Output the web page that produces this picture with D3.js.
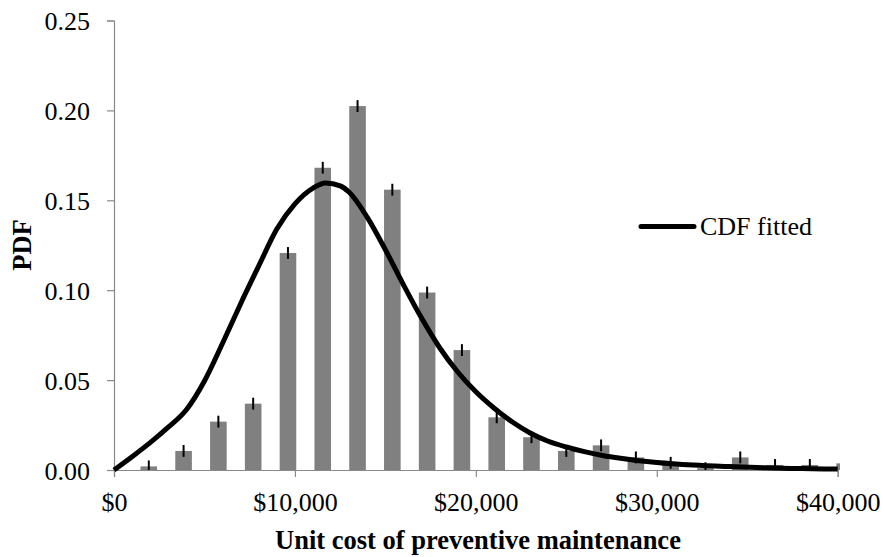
<!DOCTYPE html>
<html>
<head>
<meta charset="utf-8">
<script src="https://cdn.jsdelivr.net/npm/d3@7/dist/d3.min.js"></script>
<style>
  html, body { margin: 0; padding: 0; background: #fff; }
  svg { display: block; }
  text { font-family: "Liberation Serif", "Times New Roman", serif; fill: #000; }
</style>
</head>
<body>
<svg id="chart" width="885" height="557"></svg>
<script>
// Histogram of unit cost (bin midpoints, $) with observed PDF and error
const binCost = [1923, 3846, 5769, 7692, 9615, 11538, 13461, 15384, 17307, 19230,
                 21153, 23076, 24999, 26922, 28845, 30768, 32691, 34614, 36537, 38460, 40383];
const binPdf  = [0.002, 0.0106, 0.0269, 0.0369, 0.1207, 0.1681, 0.2024, 0.1559, 0.0987, 0.0667,
                 0.0293, 0.0182, 0.0106, 0.0137, 0.0070, 0.0040, 0.0010, 0.0070, 0.0028, 0.0028, 0.0037];
const binErr  = [0.0033, 0.0033, 0.0033, 0.0033, 0.0033, 0.0033, 0.0033, 0.0033, 0.0033, 0.0033,
                 0.0033, 0.0033, 0.0033, 0.0033, 0.0033, 0.0033, 0.0033, 0.0033, 0.0033, 0.0033, 0.0033];

// Fitted distribution curve
const fitCost = [0, 1000, 2000, 3000, 4000, 5000, 6000, 7000, 8000, 9000, 10000, 11000, 11700,
                 12500, 13000, 14000, 15000, 16000, 17000, 18000, 19000, 20000, 21000, 22000,
                 23000, 24000, 25000, 26000, 27000, 28000, 29000, 30000, 32000, 34000, 36000, 38000, 40000];
const fitPdf  = [0, 0.0074, 0.0152, 0.0238, 0.0335, 0.0495, 0.0705, 0.0925, 0.1135, 0.1340, 0.1480,
                 0.1568, 0.1596, 0.1580, 0.1545, 0.1405, 0.1225, 0.1030, 0.0845, 0.0680, 0.0545,
                 0.0435, 0.0345, 0.0268, 0.0206, 0.0160, 0.0128, 0.0102, 0.0081, 0.0065, 0.0052,
                 0.0042, 0.0028, 0.0019, 0.0012, 0.0008, 0.0005];

const xTicks = [0, 10000, 20000, 30000, 40000];
const yTicks = [0, 0.05, 0.10, 0.15, 0.20, 0.25];
const seriesName = "CDF fitted";
const xTitle = "Unit cost of preventive maintenance";
const yTitle = "PDF";

const svg = d3.select("#chart");
const plotLeft = 114, plotRight = 837.7, plotTop = 20.5, plotBottom = 470;

const x = d3.scaleLinear().domain([0, 40000]).range([plotLeft, plotRight]);
const y = d3.scaleLinear().domain([0, 0.25]).range([plotBottom, plotTop]);

svg.append("clipPath").attr("id", "plotClip")
  .append("rect").attr("x", plotLeft).attr("y", 0).attr("width", 840 - plotLeft).attr("height", plotBottom);

const barW = 16.6;
const bars = binCost.map((c, i) => ({ c, v: binPdf[i], e: binErr[i] }));

const gBars = svg.append("g").attr("clip-path", "url(#plotClip)");
gBars.selectAll("rect.bar").data(bars).join("rect")
  .attr("class", "bar")
  .attr("x", d => x(d.c) - barW / 2)
  .attr("width", barW)
  .attr("y", d => y(d.v))
  .attr("height", d => y(0) - y(d.v))
  .attr("fill", "#808080");

// Axes
const axisColor = "#898989";
const yAxis = svg.append("g").attr("transform", `translate(${plotLeft},0)`)
  .call(d3.axisLeft(y).tickValues(yTicks).tickFormat(d3.format(".2f")).tickSize(7).tickPadding(17));
const xAxis = svg.append("g").attr("transform", `translate(0,${plotBottom})`)
  .call(d3.axisBottom(x).tickValues(xTicks).tickFormat(d => "$" + d3.format(",")(d)).tickSize(7).tickPadding(16));
[xAxis, yAxis].forEach(g => {
  g.select(".domain").attr("stroke", axisColor).attr("stroke-width", 1.2);
  g.selectAll(".tick line").attr("stroke", axisColor).attr("stroke-width", 1.2);
  g.selectAll(".tick text").attr("font-size", 26).attr("font-family", "Liberation Serif").attr("fill", "#000");
});
yAxis.selectAll(".tick text").attr("dy", "0.36em");

// Error bars
gBars.selectAll("line.err").data(bars).join("line")
  .attr("class", "err")
  .attr("x1", d => x(d.c)).attr("x2", d => x(d.c))
  .attr("y1", d => y(d.v + d.e)).attr("y2", d => y(Math.max(0, d.v - d.e)))
  .attr("stroke", "#000").attr("stroke-width", 2);

// Fitted curve
const line = d3.line()
  .x((d, i) => x(fitCost[i]))
  .y(d => y(d))
  .curve(d3.curveMonotoneX);
svg.append("path")
  .attr("d", line(fitPdf))
  .attr("fill", "none")
  .attr("stroke", "#000")
  .attr("stroke-width", 5)
  .attr("stroke-linejoin", "round");

// Legend
svg.append("line")
  .attr("x1", 641).attr("x2", 694).attr("y1", 226.5).attr("y2", 226.5)
  .attr("stroke", "#000").attr("stroke-width", 5).attr("stroke-linecap", "round");
svg.append("text").attr("x", 700).attr("y", 235).attr("font-size", 26).text(seriesName);

// Axis titles
svg.append("text")
  .attr("x", 478).attr("y", 549)
  .attr("text-anchor", "middle").attr("font-size", 26.5).attr("font-weight", "bold")
  .text(xTitle);
svg.append("text")
  .attr("transform", "translate(31,245) rotate(-90)")
  .attr("text-anchor", "middle").attr("font-size", 26.5).attr("font-weight", "bold")
  .text(yTitle);
</script>
</body>
</html>
